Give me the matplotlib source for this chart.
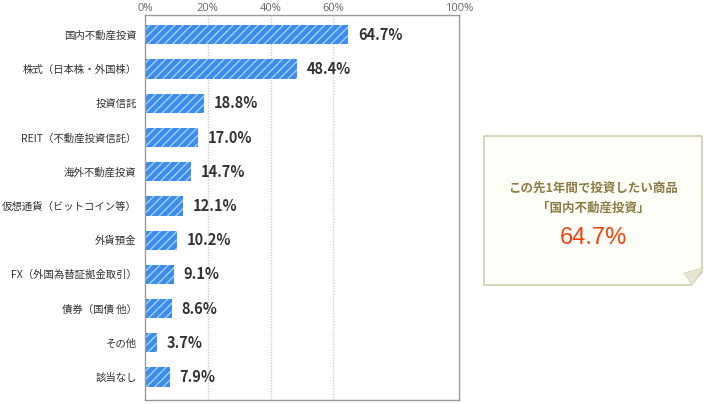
import matplotlib
matplotlib.use("Agg")
import matplotlib.pyplot as plt
from matplotlib.patches import Polygon

plt.rcParams['font.family'] = ['Noto Sans CJK JP', 'DejaVu Sans']

# data
categories = ['国内不動産投資', '株式（日本株・外国株）', '投資信託', 'REIT（不動産投資信託）',
              '海外不動産投資', '仮想通貨（ビットコイン等）', '外貨預金', 'FX（外国為替証拠金取引）',
              '債券（国債 他）', 'その他', '該当なし']
values = [64.7, 48.4, 18.8, 17.0, 14.7, 12.1, 10.2, 9.1, 8.6, 3.7, 7.9]
ticks = [0, 20, 40, 60, 100]
grid_at = [20, 40, 60]
callout_lines = ['この先1年間で投資したい商品', '「国内不動産投資」']
callout_value = '64.7%'

W, H = 724, 404
fig = plt.figure(figsize=(W / 100, H / 100), dpi=100)
ax = fig.add_axes([145 / W, 1 - 400 / H, (459 - 145) / W, (400 - 15) / H])

ypos = list(range(len(categories)))
ax.barh(ypos, values, height=0.56, color='#3a8cef', edgecolor='#a9cff8',
        linewidth=0, hatch='////')

for y, v in zip(ypos, values):
    ax.annotate(f'{v:.1f}%', (v, y), xytext=(7, 0), textcoords='offset points',
                va='center', ha='left', fontsize=10.5, fontweight='bold', color='#333333')

ax.set_xlim(0, 100)
ax.set_ylim(10.67, -0.58)
ax.set_yticks(ypos)
ax.set_yticklabels(categories, fontsize=7.5, color='#333333')
ax.tick_params(axis='y', length=0, pad=6)

ax.xaxis.tick_top()
ax.set_xticks(ticks)
ax.set_xticklabels([f'{t}%' for t in ticks], fontsize=8, color='#666666',
                   family=['Open Sans', 'DejaVu Sans'])
ax.tick_params(axis='x', length=0, pad=1)

for g in grid_at:
    ax.axvline(g, color='#cccccc', linestyle=(0, (1, 1)), linewidth=1, zorder=0)

for s in ax.spines.values():
    s.set_color('#999999')
    s.set_linewidth(1)

# callout note
def px(x, y):
    return (x / W, 1 - y / H)

box = Polygon([px(484, 136), px(702, 136), px(702, 272), px(691, 285), px(484, 285)],
              closed=True, transform=fig.transFigure, facecolor='#fefef8',
              edgecolor='#cbc3a0', linewidth=1)
fold = Polygon([px(684, 273), px(703, 268), px(692, 285)], closed=True,
               transform=fig.transFigure, facecolor='#e6e6d2', edgecolor='#d8d6bd',
               linewidth=0.6)
fig.patches.extend([box, fold])

cx = 593 / W
fig.text(cx, 1 - 188 / H, callout_lines[0], ha='center', va='center',
         fontsize=9, fontweight='bold', color='#8c7c46')
fig.text(cx, 1 - 208 / H, callout_lines[1], ha='center', va='center',
         fontsize=9, fontweight='bold', color='#8c7c46')
fig.text(cx, 1 - 238 / H, callout_value, ha='center', va='center',
         fontsize=17, color='#f2410c', family=['Liberation Sans', 'DejaVu Sans'])

fig.savefig('out.png', dpi=100)
